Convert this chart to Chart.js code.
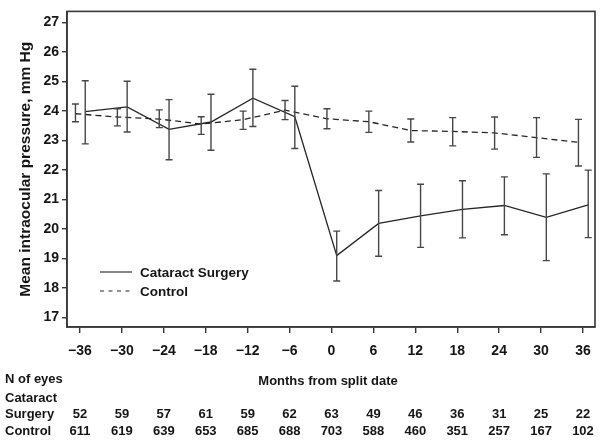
<!DOCTYPE html>
<html>
<head>
<meta charset="utf-8">
<script src="https://cdn.jsdelivr.net/npm/chart.js@4/dist/chart.umd.min.js"></script>
<style>
  html, body { margin: 0; padding: 0; background: #fff; }
  #wrap { width: 602px; height: 442px; }
</style>
</head>
<body>
<div id="wrap"><canvas id="iopChart" width="602" height="442"></canvas></div>
<script>
/* ─── DATA ────────────────────────────────────────────────── */
const months = [-36, -30, -24, -18, -12, -6, 0, 6, 12, 18, 24, 30, 36];
const yTicks = [17, 18, 19, 20, 21, 22, 23, 24, 25, 26, 27];

const surgeryMean = [23.97, 24.13, 23.37, 23.62, 24.43, 23.80, 19.09, 20.18, 20.44, 20.66, 20.79, 20.39, 20.81];
const surgeryLow  = [22.88, 23.28, 22.34, 22.66, 23.47, 22.72, 18.23, 19.07, 19.37, 19.69, 19.80, 18.92, 19.70];
const surgeryHigh = [25.02, 25.00, 24.38, 24.56, 25.41, 24.83, 19.92, 21.30, 21.51, 21.63, 21.76, 21.86, 21.99];

const controlMean = [23.90, 23.79, 23.72, 23.55, 23.70, 24.02, 23.73, 23.63, 23.33, 23.30, 23.25, 23.09, 22.93];
const controlLow  = [23.63, 23.49, 23.43, 23.20, 23.37, 23.70, 23.39, 23.27, 22.94, 22.81, 22.70, 22.42, 22.13];
const controlHigh = [24.23, 24.07, 24.03, 23.80, 23.99, 24.35, 24.07, 23.99, 23.72, 23.77, 23.79, 23.77, 23.71];

const surgeryN = [52, 59, 57, 61, 59, 62, 63, 49, 46, 36, 31, 25, 22];
const controlN = [611, 619, 639, 653, 685, 688, 703, 588, 460, 351, 257, 167, 102];

// small horizontal dodge so the two groups' error bars don't overlap
const surgeryShift = 0.75;
const controlShift = -0.65;

/* ─── STYLE ───────────────────────────────────────────────── */
const FONT    = '"Liberation Sans", Arial, Helvetica, sans-serif';
const INK     = '#151515';
const LINE    = '#262626';
const ERRBAR  = '#474747';
const FRAME   = '#383838';

const pts = (mean, shift) => months.map((m, i) => ({ x: m + shift, y: mean[i] }));
const fmtMonth = v => (v < 0 ? '\u2212' + Math.abs(v) : String(v));

/* ─── PLUGINS ─────────────────────────────────────────────── */
const errorBars = {
  id: 'errorBars',
  afterDatasetsDraw(chart) {
    const { ctx, scales: { x, y } } = chart;
    ctx.save();
    ctx.strokeStyle = ERRBAR;
    ctx.lineWidth = 1.4;
    ctx.setLineDash([]);
    chart.data.datasets.forEach(ds => {
      ds.data.forEach((p, i) => {
        const px = x.getPixelForValue(p.x);
        const lo = y.getPixelForValue(ds.errLow[i]);
        const hi = y.getPixelForValue(ds.errHigh[i]);
        ctx.beginPath();
        ctx.moveTo(px, lo); ctx.lineTo(px, hi);
        ctx.moveTo(px - 3.5, lo); ctx.lineTo(px + 3.5, lo);
        ctx.moveTo(px - 3.5, hi); ctx.lineTo(px + 3.5, hi);
        ctx.stroke();
      });
    });
    ctx.restore();
  },
};

const frame = {
  id: 'frame',
  afterDraw(chart) {
    const { ctx, chartArea: a } = chart;
    ctx.save();
    ctx.strokeStyle = FRAME;
    ctx.lineWidth = 1.6;
    ctx.strokeRect(a.left, a.top, a.right - a.left, a.bottom - a.top);
    ctx.restore();
  },
};

const insideLegend = {
  id: 'insideLegend',
  afterDraw(chart) {
    const { ctx, chartArea: a } = chart;
    const x0 = a.left + 33;
    ctx.save();
    ctx.font = 'bold 13.5px ' + FONT;
    ctx.fillStyle = INK;
    ctx.textBaseline = 'middle';
    chart.data.datasets.forEach((ds, i) => {
      const yy = a.bottom - 55 + i * 19;
      ctx.strokeStyle = ds.borderColor;
      ctx.lineWidth = 1.1;
      ctx.setLineDash(ds.borderDash ? [4, 4.5] : []);
      ctx.beginPath();
      ctx.moveTo(x0, yy); ctx.lineTo(x0 + 32, yy);
      ctx.stroke();
      ctx.fillText(ds.label, x0 + 40, yy + 1);
    });
    ctx.restore();
  },
};

const countTable = {
  id: 'countTable',
  afterDraw(chart) {
    const { ctx, chartArea: a, scales: { x } } = chart;
    ctx.save();
    ctx.font = 'bold 13px ' + FONT;
    ctx.fillStyle = INK;
    ctx.textBaseline = 'middle';
    ctx.textAlign = 'left';
    ctx.fillText('N of eyes', 5, 379);
    ctx.fillText('Cataract', 5, 398);
    ctx.fillText('Surgery', 5, 414);
    ctx.fillText('Control', 5, 431);
    ctx.textAlign = 'center';
    ctx.fillText('Months from split date', (a.left + a.right) / 2 - 3, 381);
    months.forEach((m, i) => {
      const px = x.getPixelForValue(m);
      ctx.fillText(String(surgeryN[i]), px, 414);
      ctx.fillText(String(controlN[i]), px, 431);
    });
    ctx.restore();
  },
};

/* ─── CHART ───────────────────────────────────────────────── */
const ctx = document.getElementById('iopChart').getContext('2d');

new Chart(ctx, {
  type: 'line',
  data: {
    datasets: [
      {
        label: 'Cataract Surgery',
        data: pts(surgeryMean, surgeryShift),
        errLow: surgeryLow,
        errHigh: surgeryHigh,
        borderColor: LINE,
        borderWidth: 1.3,
        pointRadius: 0,
        tension: 0,
        fill: false,
      },
      {
        label: 'Control',
        data: pts(controlMean, controlShift),
        errLow: controlLow,
        errHigh: controlHigh,
        borderColor: LINE,
        borderWidth: 1.3,
        borderDash: [6, 4],
        pointRadius: 0,
        tension: 0,
        fill: false,
      },
    ],
  },
  options: {
    responsive: false,
    animation: false,
    layout: { padding: { top: 5, right: 7, bottom: 80, left: 0 } },
    plugins: {
      legend: { display: false },
      tooltip: { enabled: false },
    },
    scales: {
      x: {
        type: 'linear',
        min: -37.86,
        max: 37.72,
        afterBuildTicks: s => { s.ticks = months.map(v => ({ value: v })); },
        afterFit: s => { s.height = 35; },
        ticks: {
          callback: fmtMonth,
          color: INK,
          font: { family: FONT, size: 14, weight: 'bold' },
          padding: 10,
          maxRotation: 0,
          autoSkip: false,
        },
        grid: { drawOnChartArea: false, drawTicks: true, tickLength: 6, color: FRAME, lineWidth: 1.4 },
        border: { display: true, color: FRAME, width: 1.6 },
      },
      y: {
        min: 16.67,
        max: 27.37,
        afterBuildTicks: s => { s.ticks = yTicks.map(v => ({ value: v })); },
        afterFit: s => { s.width = 67; },
        ticks: {
          color: INK,
          font: { family: FONT, size: 14, weight: 'bold' },
          padding: 3,
        },
        grid: { drawOnChartArea: false, drawTicks: true, tickLength: 5, color: FRAME, lineWidth: 1.4 },
        border: { display: true, color: FRAME, width: 1.6 },
        title: {
          display: true,
          text: 'Mean intraocular pressure, mm Hg',
          color: INK,
          font: { family: FONT, size: 15.5, weight: 'bold' },
          padding: { top: 16, bottom: 0 },
        },
      },
    },
  },
  plugins: [errorBars, frame, insideLegend, countTable],
});
</script>
</body>
</html>
